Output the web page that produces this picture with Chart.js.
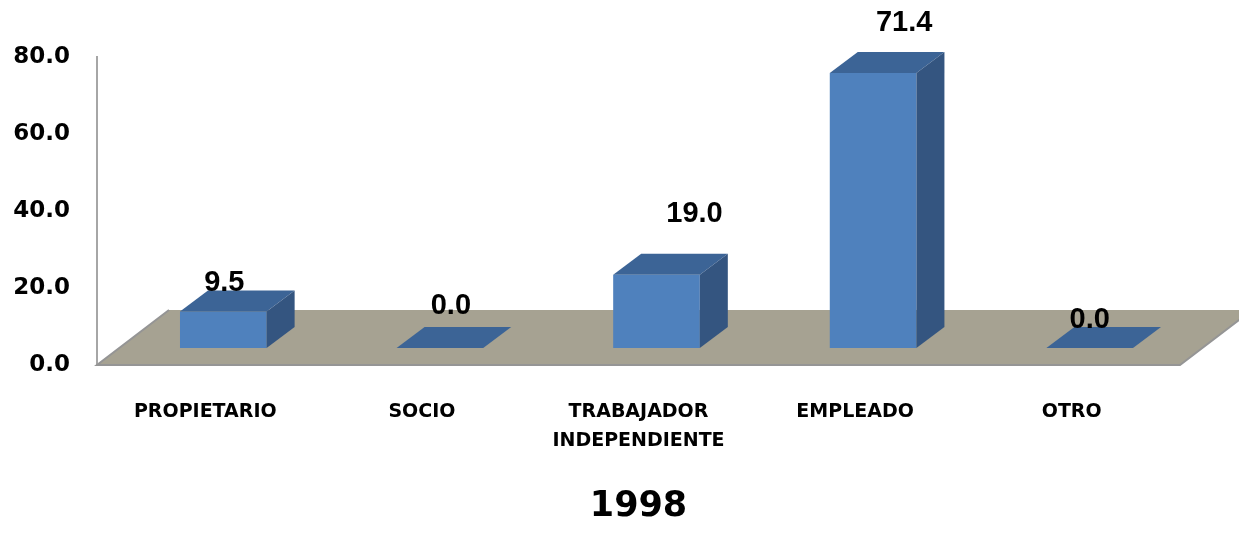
<!DOCTYPE html>
<html>
<head>
<meta charset="utf-8">
<script src="https://cdn.jsdelivr.net/npm/chart.js@4.4.1/dist/chart.umd.min.js"></script>
<style>
  html, body { margin: 0; padding: 0; background: #fff; }
  #wrap { width: 1239px; height: 534px; }
</style>
</head>
<body>
<div id="wrap"><canvas id="chart" width="1239" height="534"></canvas></div>
<script>
(function() {
    'use strict';

    const categories = ['PROPIETARIO', 'SOCIO', ['TRABAJADOR', 'INDEPENDIENTE'], 'EMPLEADO', 'OTRO'];
    const values = [9.5, 0.0, 19.0, 71.4, 0.0];
    const yTicks = [0, 20, 40, 60, 80];
    const chartTitle = '1998';

    // fake 3d look (Excel style)
    const shift = { x: 18, y: -17 };      // bars sit mid-depth of the floor
    const depth = { dx: 28, dy: -21 };    // bar depth
    const floor = { dx: 72, dy: -55 };    // floor depth
    const labelNudge = [[1, -28], [11, -42], [38, -61], [31, -50], [0, -28]];

    const bars3d = {
        id: 'bars3d',
        beforeDatasetsDraw(chart) {
            const { ctx, chartArea: a } = chart;
            ctx.save();
            ctx.beginPath();
            ctx.moveTo(a.left, a.bottom);
            ctx.lineTo(a.right, a.bottom);
            ctx.lineTo(a.right + floor.dx, a.bottom + floor.dy);
            ctx.lineTo(a.left + floor.dx, a.bottom + floor.dy);
            ctx.closePath();
            ctx.fillStyle = '#a6a292';
            ctx.fill();
            ctx.beginPath();
            ctx.moveTo(a.left + floor.dx, a.bottom + floor.dy);
            ctx.lineTo(a.left, a.bottom);
            ctx.lineTo(a.right, a.bottom);
            ctx.lineTo(a.right + floor.dx, a.bottom + floor.dy);
            ctx.strokeStyle = '#959595';
            ctx.lineWidth = 2;
            ctx.stroke();
            ctx.translate(shift.x, shift.y);
        },
        afterDatasetsDraw(chart) {
            const ctx = chart.ctx;
            chart.getDatasetMeta(0).data.forEach(bar => {
                const l = bar.x - bar.width / 2, r = bar.x + bar.width / 2;
                const t = bar.y, b = bar.base;
                ctx.beginPath();
                ctx.moveTo(l, t);
                ctx.lineTo(r, t);
                ctx.lineTo(r + depth.dx, t + depth.dy);
                ctx.lineTo(l + depth.dx, t + depth.dy);
                ctx.closePath();
                ctx.fillStyle = '#3c6496';
                ctx.fill();
                if (b - t > 0.5) {
                    ctx.beginPath();
                    ctx.moveTo(r, t);
                    ctx.lineTo(r + depth.dx, t + depth.dy);
                    ctx.lineTo(r + depth.dx, b + depth.dy);
                    ctx.lineTo(r, b);
                    ctx.closePath();
                    ctx.fillStyle = '#345580';
                    ctx.fill();
                }
            });
            ctx.restore();
        },
        afterDraw(chart) {
            const ctx = chart.ctx;
            ctx.save();
            ctx.font = 'bold 29px "Liberation Sans", Arial, sans-serif';
            ctx.fillStyle = '#000';
            ctx.textAlign = 'center';
            ctx.textBaseline = 'middle';
            chart.getDatasetMeta(0).data.forEach((bar, i) => {
                const n = labelNudge[i] || [0, -30];
                ctx.fillText(values[i].toFixed(1), bar.x + shift.x + n[0], bar.y + shift.y + n[1]);
            });
            ctx.restore();
        }
    };

    new Chart(document.getElementById('chart'), {
        type: 'bar',
        data: {
            labels: categories,
            datasets: [{
                data: values,
                backgroundColor: '#4f81bd',
                borderWidth: 0,
                categoryPercentage: 1,
                barPercentage: 0.4
            }]
        },
        options: {
            responsive: false,
            animation: false,
            layout: { padding: { top: 57, right: 59, bottom: 6, left: 0 } },
            plugins: {
                legend: { display: false },
                tooltip: { enabled: false },
                title: {
                    display: true,
                    position: 'bottom',
                    fullSize: false,
                    text: chartTitle,
                    color: '#000',
                    padding: 0,
                    font: { family: '"DejaVu Sans"', size: 35, weight: 'bold', lineHeight: 1.2 }
                }
            },
            scales: {
                x: {
                    grid: { display: false, drawTicks: false },
                    border: { display: false },
                    ticks: {
                        color: '#000',
                        padding: 33,
                        maxRotation: 0,
                        autoSkip: false,
                        font: { family: '"DejaVu Sans"', size: 19, weight: 'bold', lineHeight: 1.5 }
                    },
                    afterFit(scale) { scale.height = 121; }
                },
                y: {
                    min: 0,
                    max: 80,
                    grid: { display: false, drawTicks: false },
                    border: { display: true, color: '#a6a6a6', width: 2 },
                    afterBuildTicks(scale) { scale.ticks = yTicks.map(v => ({ value: v })); },
                    ticks: {
                        color: '#000',
                        padding: 27,
                        callback: v => Number(v).toFixed(1),
                        font: { family: '"DejaVu Sans"', size: 23, weight: 'bold' }
                    },
                    afterFit(scale) { scale.width = 97; }
                }
            }
        },
        plugins: [bars3d]
    });
})();
</script>
</body>
</html>
